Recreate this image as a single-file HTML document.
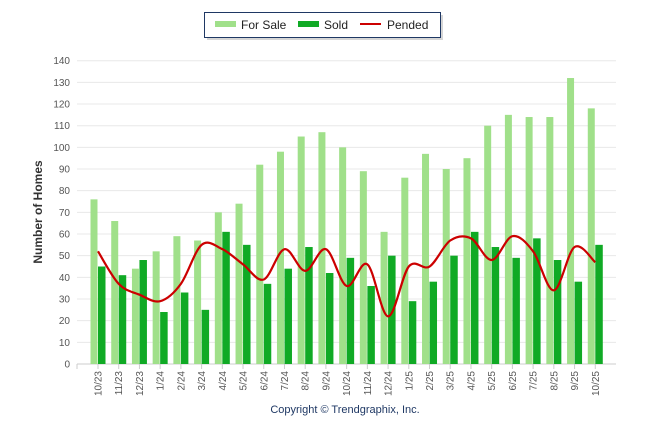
<!DOCTYPE html>
<html><head><meta charset="utf-8"><style>
body{margin:0;background:#fff;font-family:"Liberation Sans",sans-serif;}
svg text{font-family:"Liberation Sans",sans-serif;}
</style></head><body>
<svg id="chart" width="646" height="434" viewBox="0 0 646 434" xmlns="http://www.w3.org/2000/svg">
<g>
<rect x="207" y="15" width="236" height="25" fill="#bbb" opacity="0.6"/>
<rect x="204.5" y="12.5" width="236" height="25" fill="#fff" stroke="#1f3864" stroke-width="1"/>
<rect x="215" y="21" width="21" height="6" fill="#a0e08a"/>
<text x="241" y="29" font-size="12" fill="#222">For Sale</text>
<rect x="298" y="21" width="21" height="6" fill="#10aa25"/>
<text x="324" y="29" font-size="12" fill="#222">Sold</text>
<line x1="360" y1="24" x2="381" y2="24" stroke="#cc0000" stroke-width="2"/>
<text x="387" y="29" font-size="12" fill="#222">Pended</text>
</g>
<text transform="translate(42,212) rotate(-90)" text-anchor="middle" font-size="12" font-weight="bold" fill="#333">Number of Homes</text>
<text x="345" y="413" text-anchor="middle" font-size="11" fill="#1f3864">Copyright © Trendgraphix, Inc.</text>
<g id="grid"></g><g id="bars"></g><g id="line"></g><g id="axes"></g>
</svg>
<script>
const categories=["10/23","11/23","12/23","1/24","2/24","3/24","4/24","5/24","6/24","7/24","8/24","9/24","10/24","11/24","12/24","1/25","2/25","3/25","4/25","5/25","6/25","7/25","8/25","9/25","10/25"];
const forSale=[76,66,44,52,59,57,70,74,92,98,105,107,100,89,61,86,97,90,95,110,115,114,114,132,118];
const sold=[45,41,48,24,33,25,61,55,37,44,54,42,49,36,50,29,38,50,61,54,49,58,48,38,55];
const pended=[52,37,32,29,37,55,53,46,39,53,43,53,36,46,22,45,45,57,58,48,59,52,34,54,47];
const yTicks=[0,10,20,30,40,50,60,70,80,90,100,110,120,130,140];
const NS="http://www.w3.org/2000/svg";
const y0=364,yTop=60.7,yMax=140;
function yScale(v){return y0-(v/yMax)*(y0-yTop);}
function xScale(i){return 98+i*20.72;}
function mk(tag,attrs,parent){const e=document.createElementNS(NS,tag);for(const k in attrs)e.setAttribute(k,attrs[k]);document.getElementById(parent).appendChild(e);return e;}
yTicks.forEach(t=>{
 const g=mk('line',{x1:77,x2:616,y1:yScale(t),y2:yScale(t),stroke:t===0?'#ccc':'#e8e8e8','stroke-width':1},'grid');
 
 
 const tx=mk('text',{x:70,y:yScale(t)+3.5,'text-anchor':'end','font-size':10,fill:'#555'},'axes');
 tx.textContent=t;
 
 
});
categories.forEach((c,i)=>{
 const cx=xScale(i);
 const b1=mk('rect',{x:cx-7.5,y:yScale(forSale[i]),width:7,height:y0-yScale(forSale[i]),fill:'#a0e08a'},'bars');
 
 
 const b2=mk('rect',{x:cx,y:yScale(sold[i]),width:7.5,height:y0-yScale(sold[i]),fill:'#10aa25'},'bars');
 
 
 const tk=mk('line',{x1:cx,x2:cx,y1:364,y2:369,stroke:'#ccc'},'axes');
 
 
 const tl=mk('text',{transform:`translate(${cx+3.5},371) rotate(-90)`,'text-anchor':'end','font-size':10,fill:'#555'},'axes');
 tl.textContent=c;
 
 
});
const t0=mk('line',{x1:77,x2:77,y1:364,y2:369,stroke:'#ccc'},'axes');


const pts=pended.map((v,i)=>[xScale(i),yScale(v)]);
let d=`M${pts[0][0]},${pts[0][1]}`;
for(let i=0;i<pts.length-1;i++){
 const p0=pts[i-1]||pts[i],p1=pts[i],p2=pts[i+1],p3=pts[i+2]||p2,k=1/6;
 d+=` C${p1[0]+(p2[0]-p0[0])*k},${p1[1]+(p2[1]-p0[1])*k} ${p2[0]-(p3[0]-p1[0])*k},${p2[1]-(p3[1]-p1[1])*k} ${p2[0]},${p2[1]}`;
}
const ln=mk('path',{d:d,fill:'none',stroke:'#cc0000','stroke-width':2.2},'line');


</script>
</body></html>
